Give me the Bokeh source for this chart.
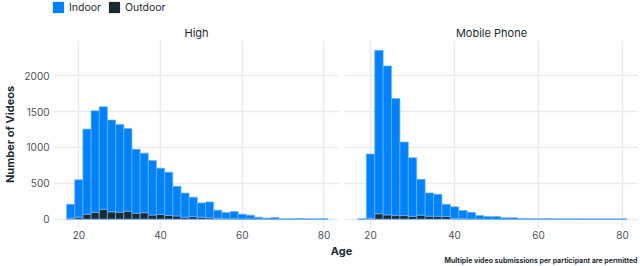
from bokeh.plotting import figure
from bokeh.models import (Range1d, FixedTicker, Legend, LegendItem, Label,
                          ColumnDataSource)
from bokeh.layouts import column, row
from bokeh.embed import file_html
from bokeh.resources import INLINE

# ---------------- data ----------------
bin_start = list(range(17, 81, 2))   # 2-year age bins, 17..79
bin_width = 2

panels = ["High", "Mobile Phone"]
series = ["Indoor", "Outdoor"]

high_indoor = [193, 520, 1185, 1415, 1428, 1279, 1223, 1154, 891, 830, 760, 646,
               603, 413, 335, 272, 199, 221, 114, 85, 100, 66, 53, 26, 13, 21,
               4, 2, 9, 2, 1, 5]
high_outdoor = [14, 28, 70, 95, 138, 102, 97, 110, 83, 90, 57, 65,
                52, 45, 28, 35, 28, 20, 12, 7, 6, 4, 3, 2, 1, 1,
                0, 0, 0, 0, 0, 0]

mobile_indoor = [3, 896, 2278, 2075, 1631, 1025, 817, 500, 324, 307, 170, 162,
                 115, 92, 49, 36, 36, 19, 19, 6, 4, 3, 6, 3, 2, 2,
                 2, 1, 2, 1, 1, 2]
mobile_outdoor = [0, 12, 75, 60, 50, 50, 40, 56, 42, 40, 38, 10,
                  6, 3, 2, 1, 1, 0, 0, 0, 0, 0, 0, 0, 0, 0,
                  0, 0, 0, 0, 0, 0]

x_ticks = [20, 40, 60, 80]
y_ticks = [0, 500, 1000, 1500, 2000]

x_label = "Age"
y_label = "Number of Videos"
caption = "Multiple video submissions per participant are permitted"

# ---------------- style ----------------
BLUE = "#0082FB"
DARK = "#1C2B33"
EDGE = "#6DB3FF"
GRID = "#EBEBEB"
TICK = "#4B5058"
FONT = "Inter"

FRAME_W = 294
FRAME_H = 188
HEAD_H = 14
TOP = 26
BOTTOM = 14
FOOT_H = 24

x_range = Range1d(13.8, 83.8)
y_range = Range1d(-130, 2490)


def make_panel(title, indoor, outdoor, border_left, border_right, show_y):
    src = ColumnDataSource(dict(
        x=[s + bin_width / 2 for s in bin_start],
        Indoor=indoor,
        Outdoor=outdoor,
    ))
    p = figure(width=border_left + FRAME_W + border_right,
               height=TOP + FRAME_H + BOTTOM,
               x_range=x_range, y_range=y_range,
               output_backend="svg", toolbar_location=None,
               min_border_left=border_left, min_border_right=border_right,
               min_border_top=TOP, min_border_bottom=BOTTOM)
    rs = p.vbar_stack(["Outdoor", "Indoor"], x="x", width=bin_width,
                      fill_color=[DARK, BLUE], line_color=EDGE,
                      line_width=0.7, source=src)

    p.title.text = title
    p.title.align = "center"
    p.title.text_font = FONT
    p.title.text_font_size = "11px"
    p.title.text_font_style = "normal"
    p.title.text_color = DARK
    p.title.standoff = 2

    p.outline_line_color = None
    for g in (p.xgrid, p.ygrid):
        g.grid_line_color = GRID
        g.grid_line_width = 1.5
    p.xgrid.ticker = FixedTicker(ticks=x_ticks)
    p.ygrid.ticker = FixedTicker(ticks=y_ticks)

    for ax in (p.xaxis, p.yaxis):
        ax.axis_line_color = None
        ax.major_tick_line_color = None
        ax.minor_tick_line_color = None
        ax.major_tick_out = 0
        ax.major_tick_in = 0
        ax.minor_tick_out = 0
        ax.minor_tick_in = 0
        ax.major_label_text_font = FONT
        ax.major_label_text_font_size = "10px"
        ax.major_label_text_color = TICK
        ax.axis_label_text_font = FONT
        ax.axis_label_text_font_size = "11px"
        ax.axis_label_text_font_style = "bold"
        ax.axis_label_text_color = DARK
    p.xaxis.ticker = FixedTicker(ticks=x_ticks)
    p.yaxis.ticker = FixedTicker(ticks=y_ticks)
    p.xaxis.major_label_standoff = 2
    p.yaxis.major_label_standoff = 4
    if show_y:
        p.yaxis.axis_label = y_label
        p.yaxis.axis_label_standoff = 4
    else:
        p.yaxis.visible = False
    return p, rs, src


p1, rs1, src1 = make_panel(panels[0], high_indoor, high_outdoor, 45, 0, True)
p2, rs2, src2 = make_panel(panels[1], mobile_indoor, mobile_outdoor, 5, 2, False)
total_w = p1.width + p2.width

# ---------------- legend header ----------------
# The key renderers share the panel data; the header's x range lies outside
# the ages, so only the legend swatches are shown here.
header = figure(width=total_w, height=HEAD_H, x_range=Range1d(-10, -9),
                y_range=Range1d(0, 1), output_backend="svg",
                toolbar_location=None, min_border=0,
                x_axis_location=None, y_axis_location=None)
header.grid.visible = False
header.outline_line_color = None
key_out, key_in = header.vbar_stack(["Outdoor", "Indoor"], x="x",
                                    width=bin_width,
                                    fill_color=[DARK, BLUE], line_color=None,
                                    source=src1)
legend = Legend(items=[LegendItem(label=series[0], renderers=[key_in]),
                       LegendItem(label=series[1], renderers=[key_out])],
                orientation="horizontal", location=(51, 0),
                glyph_width=14, glyph_height=14, label_height=14,
                label_standoff=4, spacing=6, padding=0, margin=0,
                border_line_color=None, background_fill_alpha=0,
                label_text_font=FONT, label_text_font_size="10.5px",
                label_text_color=DARK, label_text_baseline="middle")
header.add_layout(legend, "center")

# ---------------- footer ----------------
footer = figure(width=total_w, height=FOOT_H, x_range=Range1d(0, total_w),
                y_range=Range1d(0, FOOT_H), output_backend="svg",
                toolbar_location=None, min_border=0,
                x_axis_location=None, y_axis_location=None)
footer.grid.visible = False
footer.outline_line_color = None
footer.add_layout(Label(x=341, y=16, text=x_label, text_align="center",
                        text_baseline="middle", text_font=FONT,
                        text_font_size="11px", text_font_style="bold",
                        text_color=DARK))
footer.add_layout(Label(x=637, y=6, text=caption, text_align="right",
                        text_baseline="middle", text_font=FONT,
                        text_font_size="7px", text_font_style="bold",
                        text_color=DARK))

layout = column(header, row(p1, p2), footer)
open("out.html", "w").write(file_html(layout, INLINE))
